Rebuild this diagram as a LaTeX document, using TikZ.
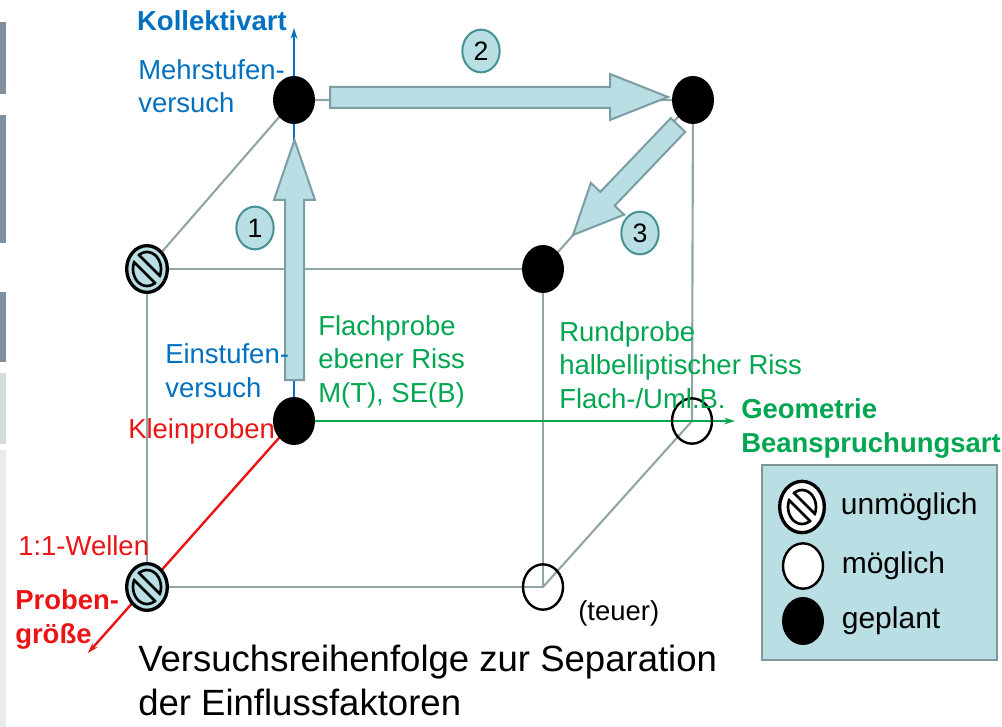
\documentclass[tikz,border=0pt]{standalone}
\usepackage{fontspec}
\setmainfont{Liberation Sans}
\usetikzlibrary{positioning,shapes.geometric,arrows.meta}

\definecolor{cubegray}{RGB}{145,165,168}
\definecolor{tealfill}{RGB}{185,222,228}
\definecolor{tealdraw}{RGB}{122,158,163}
\definecolor{ringteal}{RGB}{70,145,145}
\definecolor{legendgray}{RGB}{128,150,152}
\definecolor{kollblue}{RGB}{0,112,192}
\definecolor{geogreen}{RGB}{0,166,80}
\definecolor{probred}{RGB}{235,20,20}
\definecolor{bardark}{RGB}{128,144,158}
\definecolor{barlight}{RGB}{214,219,224}
\definecolor{barpale}{RGB}{233,236,239}

% inner part of the "unmoeglich" sign: scale, fill colour
\newcommand\nobar[2]{%
	\begin{scope}[shift={(path picture bounding box.center)}, scale=#1]
		\draw[line width=2pt] (0,0) ellipse (14 and 17);
		\fill[#2] (-10.4,-16.4) -- (16.4,10.4) -- (10.4,16.4) -- (-16.4,-10.4) -- cycle;
		\clip (0,0) ellipse (15.3 and 18.3);
		\draw[line width=2pt] (-10.4,-16.4) -- (16.4,10.4) (-16.4,-10.4) -- (10.4,16.4);
	\end{scope}}

\begin{document}
\begin{tikzpicture}
	[x=0.75pt, y=-0.75pt,
	edge/.style={cubegray, line width=1.6pt},
	axis/.style={-{Stealth[length=8pt,width=5pt]}, line width=1.8pt},
	bigarrow/.style={fill=tealfill, draw=tealdraw, line width=1.5pt, line join=miter},
	geplant/.style={ellipse, fill=black, minimum width=31.5pt, minimum height=36pt, inner sep=0pt},
	moeglich/.style={ellipse, draw=black, line width=1.8pt, minimum width=30pt, minimum height=34pt, inner sep=0pt},
	unmoeglich/.style={ellipse, draw=black, line width=2.5pt, fill=tealfill, minimum width=30.5pt, minimum height=35pt, inner sep=0pt,
		path picture={\nobar{1}{tealfill}}},
	legendsign/.style={ellipse, draw=black, line width=2.5pt, fill=white, minimum width=33.5pt, minimum height=38.5pt, inner sep=0pt,
		path picture={\nobar{1.1}{white}}},
	stepnum/.style={ellipse, draw=ringteal, line width=1.5pt, fill=tealfill, minimum width=28pt, minimum height=32pt, inner sep=0pt, font=\fontsize{20}{20}\selectfont},
	lbl/.style={anchor=base west, align=left, inner sep=0pt, font=\fontsize{20.6}{24.8}\selectfont},
	legendtext/.style={inner sep=0pt, font=\fontsize{22.5}{27}\selectfont}]

	\useasboundingbox (0,0) rectangle (1002,727);

	% Draw side bars
	\fill[bardark] (0,22) rectangle (6,94);
	\fill[bardark] (0,115) rectangle (6,243);
	\fill[bardark] (0,292) rectangle (6,362);
	\fill[barlight] (0,373) rectangle (6,444);
	\fill[barpale] (0,450) rectangle (6,727);

	% Cube corners
	\coordinate (BTL) at (294,100);
	\coordinate (BTR) at (693,100);
	\coordinate (BBL) at (294,421);
	\coordinate (BBR) at (692,421);
	\coordinate (FTL) at (147,269);
	\coordinate (FTR) at (543,269);
	\coordinate (FBL) at (147,587);
	\coordinate (FBR) at (543,587);

	% Draw cube edges
	\draw[edge] (FTL) -- (FTR) -- (FBR) -- (FBL) -- cycle;
	\draw[edge] (FTL) -- (BTL) -- (BTR) -- (FTR);
	\draw[edge] (BTR) -- (BBR) -- (FBR);

	% Draw axes
	\coordinate (KOLL) at (294,28);
	\coordinate (GEO) at (735,421);
	\coordinate (PROB) at (88,653);
	\draw[axis, kollblue] (BBL) -- (KOLL);
	\draw[axis, geogreen] (BBL) -- (GEO);
	\draw[axis, probred] (BBL) -- (PROB);

	% Draw sequence arrows
	\draw[bigarrow] (285,380) -- (304,380) -- (304,200) -- (315,200) -- (294.5,140)
		-- (274,200) -- (285,200) -- cycle;
	\draw[bigarrow] (330,87) -- (610,87) -- (610,74) -- (668,97) -- (610,120)
		-- (610,108) -- (330,108) -- cycle;
	\draw[bigarrow] (670.8,118.1) -- (685.2,131.9) -- (614.7,205.7) -- (624.1,214.7)
		-- (573,235) -- (590.9,182.9) -- (600.3,191.9) -- cycle;

	% Place corner markers
	\node[geplant] (MEHR) at (BTL) {};
	\node[geplant] (ZWEI) at (BTR) {};
	\node[geplant] (DREI) at (FTR) {};
	\node[geplant] (KLEIN) at (BBL) {};
	\node[moeglich] (RUND) at (BBR) {};
	\node[moeglich] (TEUER) at (FBR) {};
	\node[unmoeglich] (WMEHR) at (FTL) {};
	\node[unmoeglich] (WELLE) at (FBL) {};

	% Step numbers
	\node[stepnum] (N1) at (255,228) {1};
	\node[stepnum] (N2) at (481,51) {2};
	\node[stepnum] (N3) at (640,233) {3};

	% Axis labels (multi-line labels sit on their last baseline)
	\node[lbl, anchor=base east, text=kollblue, font=\fontsize{20.6}{24.8}\selectfont\bfseries] (KOLLT) at (287,31) {Kollektivart};
	\node[lbl, text=kollblue] (MEHRT) at (138,113) {Mehrstufen-\\versuch};
	\node[lbl, text=kollblue] (EINT) at (165,397) {Einstufen-\\versuch};
	\node[lbl, text=probred] (KLEINT) at (128,438) {Kleinproben};
	\node[lbl, text=probred] (WELLET) at (18,555) {1:1-Wellen};
	\node[lbl, text=probred, font=\fontsize{20.6}{24.8}\selectfont\bfseries] (PROBT) at (15,643) {Proben-\\größe};
	\node[lbl, text=geogreen] (FLACHT) at (318,402) {Flachprobe\\ebener Riss\\M(T), SE(B)};
	\node[lbl, text=geogreen] (RUNDT) at (559,408) {Rundprobe\\halbelliptischer Riss\\Flach-/Uml.B.};
	\node[lbl, text=geogreen, font=\fontsize{20.6}{24.8}\selectfont\bfseries] (GEOT) at (741,452) {Geometrie\\Beanspruchungsart};
	\node[lbl] (TEUERT) at (578,620) {(teuer)};

	% Caption
	\node[lbl, font=\fontsize{27.4}{33}\selectfont] (CAP) at (138,715) {Versuchsreihenfolge zur Separation\\der Einflussfaktoren};

	% Legend
	\draw[fill=tealfill, draw=legendgray, line width=2pt] (762,465) rectangle (997,660);
	\node[legendsign] (LU) at (802,507) {};
	\node[moeglich, fill=white] (LM) at (803,566) {};
	\node[geplant] (LG) at (803,621) {};
	\node[legendtext, anchor=west, right=11pt of LU] (LUT) {unmöglich};
	\node[legendtext, anchor=west, right=13pt of LM] (LMT) {möglich};
	\node[legendtext, anchor=west, right=13pt of LG] (LGT) {geplant};

\end{tikzpicture}
\end{document}
